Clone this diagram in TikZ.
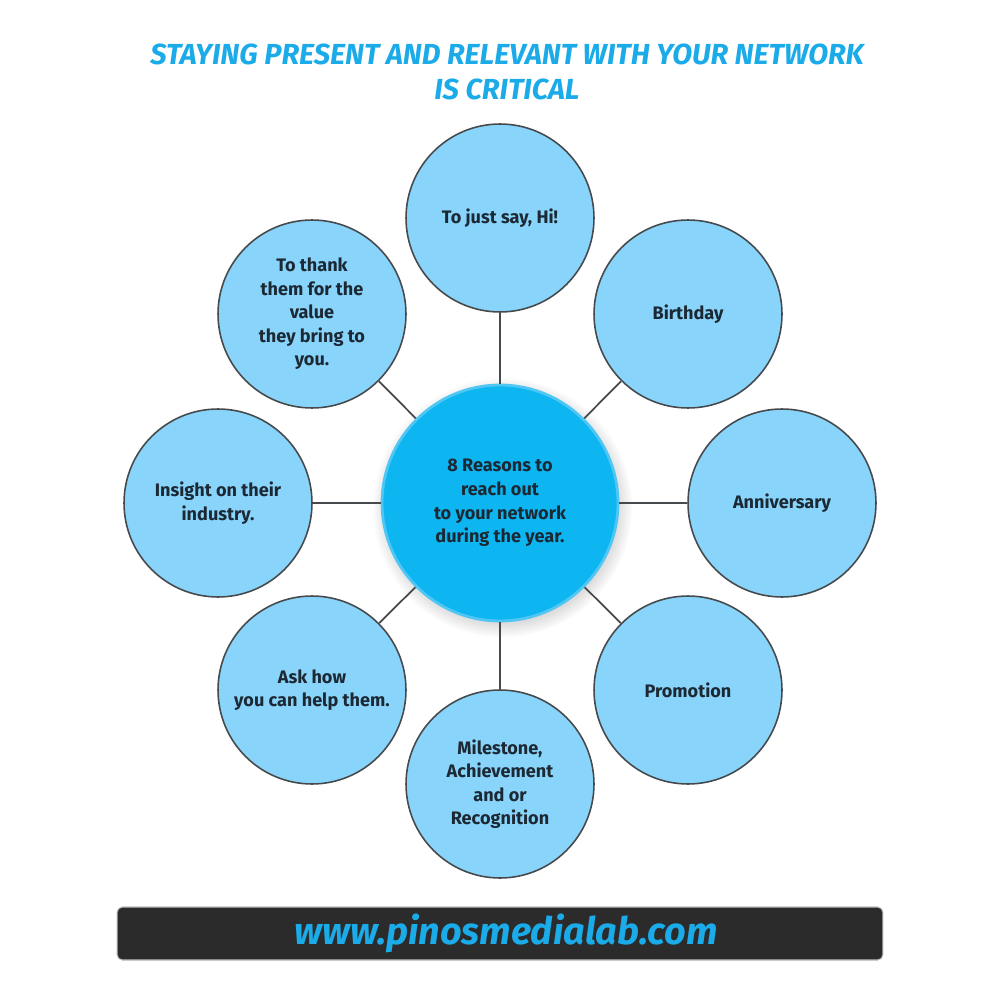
\documentclass[tikz,border=0pt]{standalone}
\usepackage{fontspec}
\setmainfont{Fira Sans}
\newfontfamily\headfont[FakeStretch=1.0]{Fira Sans}
\usetikzlibrary{shadows}

\definecolor{leafblue}{HTML}{88D4FA}
\definecolor{hubblue}{HTML}{0DB5F1}
\definecolor{hubrim}{HTML}{4FC6F4}
\definecolor{titleblue}{HTML}{1AABE8}
\definecolor{linegray}{HTML}{474A4D}
\definecolor{textnavy}{HTML}{1C2833}
\definecolor{barblack}{HTML}{2B2B2B}

\tikzset{
    leaf/.style={circle, draw=linegray, line width=0.9pt, fill=leafblue, minimum size=3.76cm,
        inner sep=0pt, align=center, text=textnavy, font=\fontsize{10.3}{13.4}\selectfont\bfseries},
    hub/.style={circle, draw=hubrim, line width=1.6pt, fill=hubblue, minimum size=4.72cm,
        inner sep=0pt, align=center, text=textnavy, font=\fontsize{10.3}{13.4}\selectfont\bfseries,
        circular drop shadow={shadow xshift=0.4mm, shadow yshift=-0.8mm, fill=black!35, opacity=0.5}},
    spoke/.style={draw=linegray, line width=1pt},
}

\begin{document}
\begin{tikzpicture}[x=0.02cm, y=-0.02cm]
    \useasboundingbox[fill=white] (0,0) rectangle (1000,1000);

    %Title
    \node[align=center, text=titleblue, font=\headfont\fontsize{16.5}{20}\selectfont\bfseries\itshape] (title) at (507,72)
        {STAYING PRESENT AND RELEVANT WITH YOUR NETWORK\\IS CRITICAL};

    %Hub
    \node[hub] (hub) at (500,503) {8 Reasons to\\reach out\\to your network\\during the year.};

    %Leaves
    \node[leaf] (hi) at (500,218) {To just say, Hi!};
    \node[leaf] (birthday) at (688,314) {Birthday};
    \node[leaf] (anniversary) at (782,503) {Anniversary};
    \node[leaf] (promotion) at (688,690) {Promotion};
    \node[leaf] (milestone) at (500,784) {Milestone,\\Achievement\\and or\\Recognition};
    \node[leaf] (help) at (312,690) {Ask how\\you can help them.};
    \node[leaf] (insight) at (218,503) {Insight on their\\industry.};
    \node[leaf] (thank) at (312,314) {To thank\\them for the\\value\\they bring to\\you.};

    %Spokes
    \foreach \leafname in {hi,birthday,anniversary,promotion,milestone,help,insight,thank}
        \draw[spoke] (hub) -- (\leafname);

    %Footer
    \node[draw=black!25, line width=0.6pt, fill=barblack, rounded corners=3pt, minimum width=15.32cm,
        minimum height=1.06cm, inner sep=0pt] (bar) at (500,933.5) {};
    \node[text=titleblue, font=\headfont\fontsize{21.5}{24}\selectfont\bfseries\itshape] (site) at ([xshift=0.12cm]bar.center) {www.pinosmedialab.com};
\end{tikzpicture}
\end{document}
